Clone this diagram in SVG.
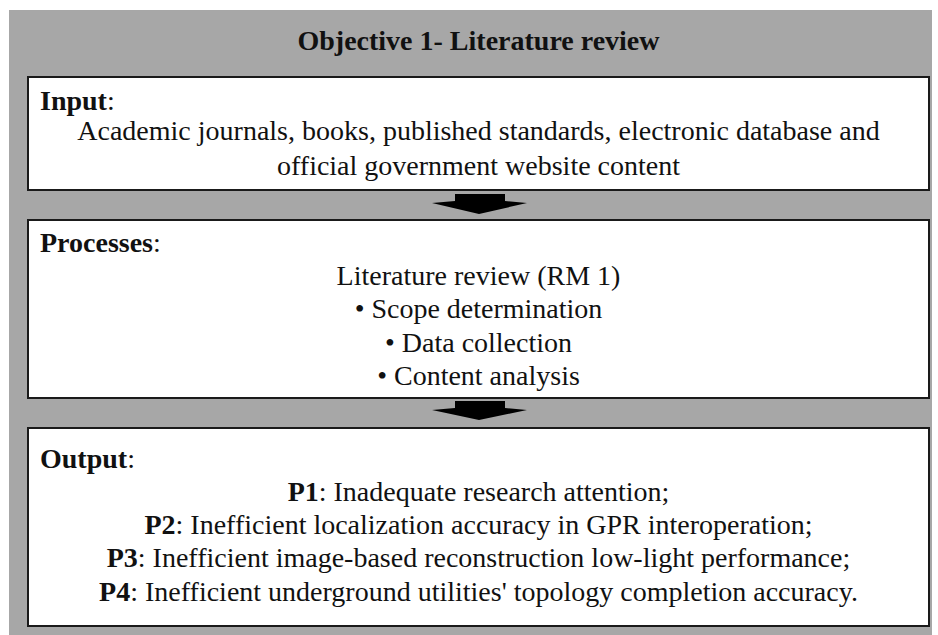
<svg xmlns="http://www.w3.org/2000/svg" width="938" height="635" viewBox="0 0 938 635">
<style>
.t{font-family:"Liberation Serif","Times New Roman",serif;font-size:28px;fill:#111;}
.c{text-anchor:middle;}
.b{font-weight:bold;}
.h{font-family:"Liberation Serif","Times New Roman",serif;font-size:28px;font-weight:bold;fill:#111;text-anchor:middle;}
.box{fill:#fff;stroke:#1a1a1a;stroke-width:2;}
.arr{fill:#000;}
</style>
<rect x="0" y="0" width="938" height="635" fill="#fff"/>
<rect id="frame" x="9" y="10" width="923" height="625" fill="#a7a7a7"/>
<g id="title"><text class="h" x="478.5" y="50">Objective 1- Literature review</text></g>
<g id="input">
<rect class="box" x="28" y="77" width="901" height="113"/>
<text class="t" x="40" y="110"><tspan class="b">Input</tspan>:</text>
<text class="t c" x="478.5" y="140">Academic journals, books, published standards, electronic database and</text>
<text class="t c" x="478.5" y="175">official government website content</text>
</g>
<g id="processes">
<rect class="box" x="28" y="220" width="901" height="178"/>
<text class="t" x="40" y="252"><tspan class="b">Processes</tspan>:</text>
<text class="t c" x="478.5" y="285">Literature review (RM 1)</text>
<text class="t c" x="478.5" y="318">• Scope determination</text>
<text class="t c" x="478.5" y="352">• Data collection</text>
<text class="t c" x="478.5" y="385">• Content analysis</text>
</g>
<g id="output">
<rect class="box" x="28" y="428" width="901" height="198"/>
<text class="t" x="40" y="468"><tspan class="b">Output</tspan>:</text>
<text class="t c" x="478.5" y="501"><tspan class="b">P1</tspan>: Inadequate research attention;</text>
<text class="t c" x="478.5" y="534"><tspan class="b">P2</tspan>: Inefficient localization accuracy in GPR interoperation;</text>
<text class="t c" x="478.5" y="567"><tspan class="b">P3</tspan>: Inefficient image-based reconstruction low-light performance;</text>
<text class="t c" x="478.5" y="601"><tspan class="b">P4</tspan>: Inefficient underground utilities' topology completion accuracy.</text>
</g>
<g id="connectors">
<polygon class="arr" points="455,194 505,194 505,201 527,203 479,214 432,203 455,201"/>
<polygon class="arr" points="455,401 505,401 505,408 527,410 479,420 432,410 455,408"/>
</g>
</svg>
